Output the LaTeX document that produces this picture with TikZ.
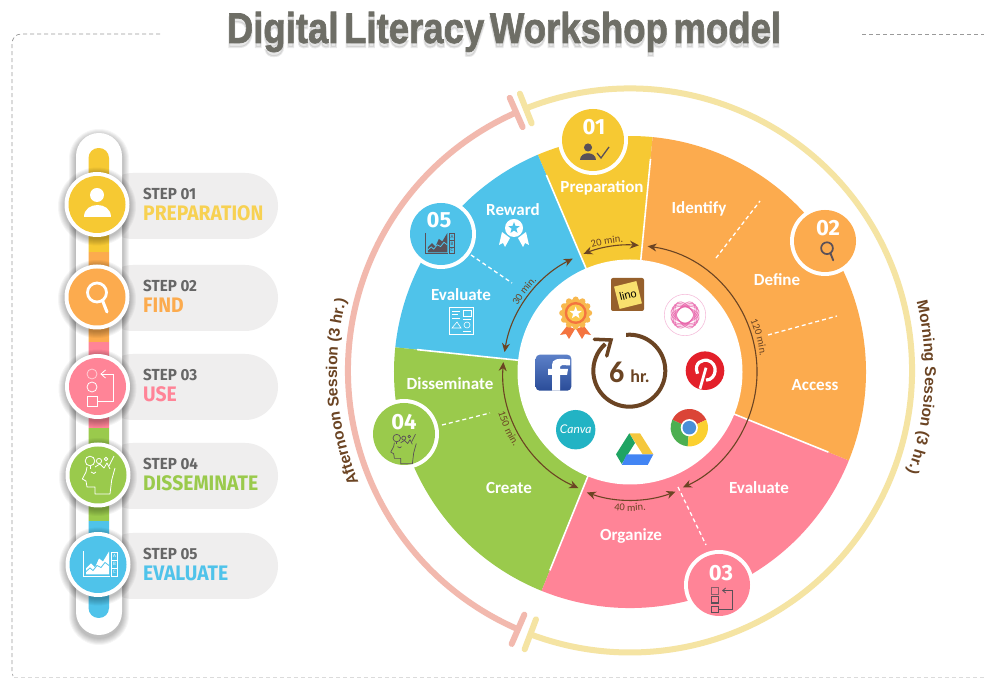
\documentclass[tikz,border=0pt]{standalone}
\usepackage{graphicx}
\usepackage{fontspec}
\setmainfont{Carlito}
\newfontfamily\ffira{Fira Sans}
\newfontfamily\flib{Liberation Sans}
\newfontfamily\ftitle[BoldFeatures={FakeBold=1.6,WordSpace=.55}]{Liberation Sans}
\newfontfamily\fshade[BoldFeatures={FakeBold=5,WordSpace=.55}]{Liberation Sans}
\newfontfamily\flato{Lato}
\usetikzlibrary{arrows.meta,decorations.text}
\definecolor{cyel}{HTML}{F6C933}
\definecolor{corg}{HTML}{FCAB4E}
\definecolor{cpnk}{HTML}{FF8497}
\definecolor{cgrn}{HTML}{9ACA4C}
\definecolor{cblu}{HTML}{4FC3EA}
\definecolor{ringy}{HTML}{F5E4A3}
\definecolor{ringp}{HTML}{F2B9AE}
\definecolor{pill}{HTML}{EFEEEE}
\definecolor{brownc}{HTML}{6B4423}
\definecolor{icond}{HTML}{5A5058}
\definecolor{stepg}{HTML}{666666}
\definecolor{titleg}{HTML}{6E6E66}
\definecolor{bordg}{HTML}{9A9A9A}
\definecolor{linob}{HTML}{96602C}
\definecolor{linoy}{HTML}{F8E06E}
\definecolor{canvac}{HTML}{22B3C4}
\definecolor{fbtop}{HTML}{5C80C8}
\definecolor{fbbot}{HTML}{2A4C98}
\definecolor{drg}{HTML}{1FA463}
\definecolor{dry}{HTML}{F5C73D}
\definecolor{drb}{HTML}{4285F4}
\definecolor{chr}{HTML}{DB4437}
\definecolor{chg}{HTML}{4CAF50}
\definecolor{chy}{HTML}{FBD02F}
\definecolor{chb}{HTML}{4A8FD8}
\definecolor{pinr}{HTML}{E3202A}
\definecolor{medo}{HTML}{F8B84E}
\definecolor{medr}{HTML}{F4743F}
\definecolor{medy}{HTML}{FBC94D}
\definecolor{swirl}{HTML}{E860A8}
\newcommand\fsz[1]{\fontsize{#1}{#1}\selectfont}
\tikzset{
  x=1pt,y=1pt,
  px/.style={shift={(0,679)},yscale=-1},
  wheel/.style={shift={(630,307)}},
  seplabel/.style={white,font=\bfseries\fsz{17},inner sep=0},
  dashsep/.style={white,line width=1.3,dash pattern=on 4pt off 3pt},
  timearrow/.style={brownc,line width=1.1,{Stealth[length=9pt,width=8pt]}-{Stealth[length=9pt,width=8pt]}},
  ringline/.style={line width=6,line cap=round},
  bordline/.style={bordg,line width=.7,dash pattern=on 4pt off 3pt},
}
\newcommand\seg[3]{\fill[#3] (0,0) -- (#1:236) arc[start angle=#1,end angle=#2,radius=236] -- cycle;}
\newcommand\arctext[6]{\path[decorate,decoration={text along path,text align=center,text={|#4\color{#5}|#6}}] (#1:#3) arc[start angle=#1,end angle=#2,radius=#3];}
\newcommand\softcirc[3]{\foreach \i in {1,...,7}{\fill[black,opacity=.04] (#1,#2+2) circle ({#3+\i});}}
\newcommand\steprow[4]{%
  \fill[pill,rounded corners=33pt] (100,#1) rectangle (278,#1+66);
  \node[anchor=base west,inner sep=0,text=stepg] (steplabel#2) at (143,#1+27) {\scalebox{.95}[1]{\ffira\bfseries\fsz{16}STEP 0#2}};
  \node[anchor=base west,inner sep=0,text=#4] (stepname#2) at (143,#1+48) {\scalebox{.92}[1]{\ffira\bfseries\fsz{21}#3}};
}
\newcommand\stepcirc[3]{\softcirc{#1}{#2}{32}\fill[white] (#1,#2) circle (32.5);\fill[#3] (#1,#2) circle (28.5);}
\newcommand\badge[6]{%
  \fill[white] (#2,#3) circle (35);\fill[#4] (#2,#3) circle (31);
  \node[inner sep=0,white] (badge#1) at (#5,#6) {\ffira\bfseries\fsz{22}0#1};
}
\newcommand\iconperson[4]{\begin{scope}[shift={(#1,#2)},scale=#3]
  \fill[#4] (0,-9.5) circle (7);
  \fill[#4] (-13.5,12.5) .. controls (-13.5,-3.5) and (13.5,-3.5) .. (13.5,12.5) -- cycle;
\end{scope}}
\newcommand\iconmag[5]{\begin{scope}[shift={(#1,#2)},scale=#3]
  \draw[#4,line width=#5] (0,-4.5) circle (9.5);
  \draw[#4,line width=#5*1.1,line cap=round] (5.5,3.5) -- (10,15);
\end{scope}}
\newcommand\iconhead[5]{\begin{scope}[shift={(#1,#2)},scale=#3,#4,line width=#5,line join=round]
  \draw (17,-7) -- (13.7,5) -- (12,19) -- (-3,19) -- (-3,12) -- (-11,12) -- (-12,6) -- (-15.7,4) -- (-12,-3) -- (-11,-8);
  \draw (-8,-14) circle (4.8);
  \draw (-8,-9) -- (-8,-6);
  \draw (1,-14) circle (2.6);
  \draw (8,-16) circle (1.8);
  \draw (-3,-8) -- (2,-11) -- (6,-7) -- (9,-12) -- (12,-6);
  \draw (16,-19) -- (11,-9);
  \draw (-7,-3) .. controls (-5,-1) and (-3,-1) .. (-2,-3);
\end{scope}}
\newcommand\iconchart[6]{\begin{scope}[shift={(#1,#2)},scale=#3]
  \fill[#4] (-12,4) -- (-7,-1) -- (-3,3) -- (1,-6) -- (5,-3) -- (11,-13) -- (11,10) -- (-12,10) -- cycle;
  \draw[#5,line width=#6] (-12,7) -- (-8,3.5) -- (-5,6) -- (-1,1) -- (3,3) -- (7,-2) -- (11,1);
  \draw[#4,line width=#6] (-14.7,-13) -- (-14.7,11.5) -- (11.5,11.5);
  \foreach \yy/\ll in {-8.5/A,-.5/B,7.5/C}{
    \draw[#4,line width=#6*.7] (13.7,\yy-3.8) rectangle (19.3,\yy+3.8);
    \node[inner sep=0,text=#4] (chartlet\ll) at (16.5,\yy) {\fsz{5}\ll};
  }
\end{scope}}
\newcommand\starshape[4]{\fill[#4,shift={(#1,#2)},scale=#3] (270:1)--(306:.42)--(342:1)--(18:.42)--(54:1)--(90:.42)--(126:1)--(162:.42)--(198:1)--(234:.42)--cycle;}
\begin{document}
\begin{tikzpicture}
\useasboundingbox (0,0) rectangle (984,679);
\fill[white] (0,0) rectangle (984,679);

\begin{scope}[wheel]
  \seg{84.5}{113}{cyel}
  \seg{113}{174}{cblu}
  \seg{174}{248}{cgrn}
  \seg{248}{338}{cpnk}
  \seg{-22}{84.5}{corg}
  \foreach \a in {84.5,113,174,248,338}{\draw[white,line width=1.6] (\a:112) -- (\a:214);}
  \begin{scope}[shift={(0,1.5)}]
    \draw[ringy,line width=6] (111.7:282) arc[start angle=111.7,end angle=-110.7,radius=282];
    \draw[ringp,line width=6] (113.8:282) arc[start angle=113.8,end angle=246.6,radius=282];
    \draw[ringy,ringline] (111.7:266) -- (111.7:298);
    \draw[ringp,ringline] (113.8:266) -- (113.8:298);
    \draw[ringy,ringline] (249.3:266) -- (249.3:298);
    \draw[ringp,ringline] (246.6:266) -- (246.6:298);
  \end{scope}
  \arctext{22}{-28}{295}{\flib\bfseries\fsz{15.6}}{brownc}{Morning Session  (3 hr.)}
  \arctext{212}{156}{293}{\flib\bfseries\fsz{15.6}}{brownc}{Afternoon Session  (3 hr.)}
  \fill[white] (0,0) circle (112.5);
  \draw[timearrow] (111.5:127) arc[start angle=111.5,end angle=86,radius=127];
  \draw[timearrow] (82:127) arc[start angle=82,end angle=-65.4,radius=127];
  \draw[timearrow] (250.3:128) arc[start angle=250.3,end angle=290.8,radius=128];
  \draw[timearrow] (175.5:127) arc[start angle=175.5,end angle=246,radius=127];
  \draw[timearrow] (116.8:127) arc[start angle=116.8,end angle=171,radius=127];
  \arctext{130}{70}{130}{\fsz{10.5}}{brownc}{20 min.}
  \arctext{45}{-15}{131}{\fsz{10.5}}{brownc}{120 min.}
  \arctext{170}{115}{130.5}{\fsz{10.5}}{brownc}{30 min.}
  \arctext{180}{230}{138}{\fsz{10.5}}{brownc}{150 min.}
  \arctext{250}{290}{139}{\fsz{10.5}}{brownc}{40 min.}
\end{scope}

\begin{scope}[px]
  \draw[bordline] (160,34) -- (22,34) .. controls (15,34) and (12,38) .. (12,45) -- (12,672) -- (13,676);
  \draw[bordline] (862,34) -- (984,34);
  \draw[bordline,opacity=.35] (14,677) -- (984,677);
  \node[inner sep=0,anchor=base,text=black,text opacity=.09] (titleshade) at (504,47) {\scalebox{.85}[1]{\fshade\bfseries\fsz{43}Digital Literacy Workshop model}};
  \node[inner sep=0,anchor=base,text=titleg] (title) at (504,43) {\scalebox{.85}[1]{\ftitle\bfseries\fsz{43}Digital Literacy Workshop model}};

  \steprow{173}{1}{PREPARATION}{cyel!85!white}
  \steprow{265}{2}{FIND}{corg}
  \steprow{354}{3}{USE}{cpnk}
  \steprow{443}{4}{DISSEMINATE}{cgrn}
  \steprow{533}{5}{EVALUATE}{cblu}
  \foreach \i in {1,...,7}{\fill[black,opacity=.04,rounded corners={(23+\i)*1pt}] (76-\i,133+3-\i) rectangle (122+\i,635+3+\i);}
  \fill[white,rounded corners=23pt] (76,133) rectangle (122,635);
  \begin{scope}
    \clip[rounded corners=10pt] (88.5,148) rectangle (109,618);
    \fill[cyel] (88,148) rectangle (110,252);
    \fill[corg] (88,252) rectangle (110,342);
    \fill[cpnk] (88,342) rectangle (110,428);
    \fill[cgrn] (88,428) rectangle (110,521);
    \fill[cblu] (88,521) rectangle (110,618);
  \end{scope}
  \stepcirc{97}{204.5}{cyel}
  \stepcirc{97}{297}{corg}
  \stepcirc{97.5}{386.5}{cpnk}
  \stepcirc{98}{475}{cgrn}
  \stepcirc{98}{564.5}{cblu}
  \iconperson{97}{204.5}{1}{white}
  \iconmag{97}{297}{1}{white}{2.8}
  \begin{scope}[shift={(97.5,386)},white,line width=.8]
    \draw[opacity=.6] (-5.5,-12) circle (5);
    \draw (-5.5,1) circle (5);
    \draw (-10.5,10) rectangle (-.5,20);
    \draw (-.5,15) -- (15.5,15) -- (15.5,-12) -- (4,-12);
    \draw (8,-16) -- (3.5,-12) -- (8,-8);
  \end{scope}
  \iconhead{98}{475}{1}{white}{.8}
  \iconchart{98}{564.5}{1}{white}{cblu}{.8}

  \draw[dashsep] (716,258) -- (760,201);
  \draw[dashsep] (768,335) -- (837,316);
  \draw[dashsep] (678,487) -- (706,545);
  \draw[dashsep] (442,425) -- (490,413);
  \draw[dashsep] (471,255) -- (512,283);

  \node[seplabel] (lPrep) at (602,188) {Preparation};
  \node[seplabel] (lIdent) at (699,209) {Identify};
  \node[seplabel] (lDef) at (777,280) {Define};
  \node[seplabel] (lAcc) at (815,385) {Access};
  \node[seplabel] (lEval) at (759,488) {Evaluate};
  \node[seplabel] (lOrg) at (631,536) {Organize};
  \node[seplabel] (lCre) at (509,488) {Create};
  \node[seplabel] (lDis) at (450,384) {Disseminate};
  \node[seplabel] (lEv2) at (461,295) {Evaluate};
  \node[seplabel] (lRew) at (513,210) {Reward};

  \badge{1}{593}{140}{cyel}{594}{127}
  \badge{2}{825}{241}{corg}{828}{228}
  \badge{3}{719}{585}{cpnk}{721}{573}
  \badge{4}{404}{434}{cgrn}{404}{422}
  \badge{5}{441}{234}{cblu}{439}{220}
  \iconperson{588}{153}{.58}{icond}
  \draw[icond,line width=1.3] (597,153) -- (601,158) -- (609,147);
  \iconmag{827}{251}{.62}{icond}{1.7}
  \begin{scope}[shift={(721.7,600)},icond,line width=.8]
    \draw[opacity=.7] (-10,-12.5) rectangle (-3.5,-6);
    \draw[line width=1.2] (-10,-3.5) rectangle (-3.5,3);
    \draw (-10,6) rectangle (-3.5,12.5);
    \draw (-3.5,9.5) -- (10.5,9.5) -- (10.5,-9.5) -- (1,-9.5);
    \draw (4,-12) -- (1,-9.5) -- (4,-7);
  \end{scope}
  \iconhead{403}{449}{.78}{icond}{.7}
  \iconchart{438}{244}{.85}{icond}{cblu}{.8}

  \fill[white] (502,232) -- (510,238) -- (505,247) -- (503,243) -- (499,245) -- cycle;
  \fill[white] (526,232) -- (518,238) -- (523,247) -- (525,243) -- (529,245) -- cycle;
  \fill[white] (514,228) circle (9);
  \starshape{514}{228}{6}{cblu}
  \begin{scope}[white,line width=.6]
    \draw (449,307) rectangle (473,334);
    \draw (452,311) -- (460,311) (452,314) -- (458,314) (452,318) -- (460,318);
    \draw (463,310) rectangle (471,316);
    \draw (452,328) -- (457,322) -- (461,328) -- cycle;
    \draw (467,325) circle (3);
    \draw (463,319) -- (471,319) (463,331) -- (471,331);
  \end{scope}

  % lino
  \fill[linob,rounded corners=2pt] (611,278) rectangle (644,311);
  \fill[linoy,shift={(628,295)},rotate=-14] (-11.5,-11.5) rectangle (11.5,11.5);
  \node[inner sep=0,text=black] (lino) at (628,295) {\rotatebox{14}{\flib\fsz{11}lino}};
  % medal
  \fill[medr] (567,326) -- (560,335) -- (566,334) -- (569,339) -- (575,329) -- cycle;
  \fill[medr] (584,326) -- (591,335) -- (585,334) -- (582,339) -- (576,329) -- cycle;
  \foreach \a in {0,30,...,330}{\fill[medo] (575.7,313)++(\a:13.5) circle (3);}
  \fill[medo] (575.7,313) circle (14);
  \fill[medr] (575.7,313) circle (11);
  \fill[medy] (575.7,313) circle (8.5);
  \starshape{575.7}{313}{6.5}{white}
  % swirl
  \draw[swirl!40!white,line width=.6] (685,315) circle (20.7);
  \foreach \r in {15,30,45,60,120,135,150,165}{
    \draw[swirl,line width=.9,opacity=.65,shift={(685,315)},rotate=\r] (0,0) ellipse (14.5 and 8);
  }
  \fill[white] (685,315) circle (4.5);
  % pinterest
  \fill[pinr] (705,370.7) circle (19.3);
  \begin{scope}[shift={(705,370.7)},white]
    \draw[line width=3.2] (-7.5,3) .. controls (-12,-9) and (-1,-11) .. (2,-10.5) .. controls (14,-8) and (12,9) .. (1,9.5);
    \draw[line width=2.8] (1,-3) -- (-5,18);
  \end{scope}
  % chrome
  \begin{scope}[shift={(689.3,427.7)},yscale=-1]
    \fill[chr] (0,0) -- (25:18.7) arc[start angle=25,end angle=155,radius=18.7] -- cycle;
    \fill[chg] (0,0) -- (155:18.7) arc[start angle=155,end angle=265,radius=18.7] -- cycle;
    \fill[chy] (0,0) -- (265:18.7) arc[start angle=265,end angle=385,radius=18.7] -- cycle;
    \fill[white] (0,0) circle (8.6);
    \fill[chb] (0,0) circle (6.8);
  \end{scope}
  % drive
  \fill[dry] (629.3,433.3) -- (640,433.3) -- (653.3,454.3) -- (642.7,454.3) -- cycle;
  \fill[drg] (629.3,433.3) -- (616,454.3) -- (621.7,464) -- (635,443) -- cycle;
  \fill[drb] (626.7,454.3) -- (653.3,454.3) -- (647.7,465) -- (621.7,465) -- cycle;
  % canva
  \fill[canvac] (575.7,429.7) circle (19.7);
  \node[inner sep=0,white] (canva) at (575.7,429.7) {\flato\itshape\fsz{12}Canva};
  % facebook
  \shade[top color=fbtop,bottom color=fbbot,rounded corners=4pt] (535.7,354.7) rectangle (571.3,390.7);
  \fill[white] (552,390.7) -- (552,375) -- (548,375) -- (548,369) -- (552,369) -- (552,365) .. controls (552,359) and (557,358) .. (570,359.5) -- (570,365.5) .. controls (562,365) and (560,364.5) .. (560,368) -- (560,369) -- (568,369) -- (567,375) -- (560,375) -- (560,390.7) -- cycle;
  % clock
  \begin{scope}[shift={(629.3,370.7)},yscale=-1]
    \draw[brownc,line width=4] (95:36) arc[start angle=95,end angle=-228,radius=36];
  \end{scope}
  \draw[brownc,line width=3.5,line cap=round,line join=miter] (594.3,339.3) -- (611,340) -- (606.7,356);
  \node[inner sep=0,text=brownc,anchor=base] (six) at (616.7,383) {\bfseries\fsz{30}6};
  \node[inner sep=0,text=brownc,anchor=base] (hr) at (640,383) {\bfseries\fsz{18}hr.};
\end{scope}
\end{tikzpicture}
\end{document}
